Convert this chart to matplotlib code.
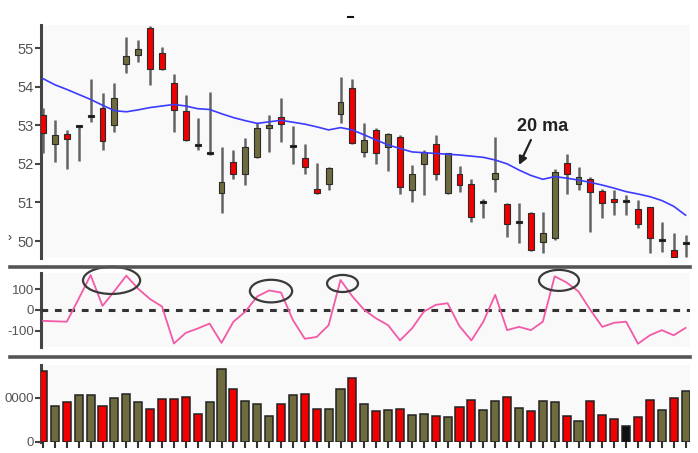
import matplotlib
matplotlib.use("Agg")
import matplotlib.pyplot as plt
from matplotlib.patches import Ellipse
from matplotlib.lines import Line2D

plt.rcParams['font.family'] = ['Liberation Sans Narrow', 'Liberation Sans', 'DejaVu Sans']

# price data (one candle per session)
opens = [53.26, 52.51, 52.77, 52.97, 53.25, 53.46, 53.00, 54.58, 54.81, 55.51,
         54.88, 54.10, 53.37, 52.50, 52.27, 51.25, 52.06, 51.74, 52.18, 52.93,
         53.22, 52.46, 52.14, 51.36, 51.48, 53.29, 53.96, 52.31, 52.89, 52.44,
         52.70, 51.32, 51.99, 52.51, 51.25, 51.75, 51.49, 51.02, 51.60, 50.96,
         50.50, 50.72, 49.98, 50.07, 52.01, 51.49, 51.60, 51.30, 51.08, 51.04,
         50.83, 50.87, 50.03, 49.78, 49.95]
highs = [53.44, 53.13, 52.88, 53.00, 54.19, 53.84, 54.10, 55.28, 55.21, 55.57,
         55.02, 54.34, 53.78, 53.18, 53.87, 52.44, 52.37, 52.66, 53.05, 53.26,
         53.72, 52.98, 52.51, 52.01, 51.93, 54.26, 54.19, 53.07, 52.94, 52.79,
         52.75, 51.97, 52.36, 52.75, 52.29, 51.94, 51.62, 51.10, 52.69, 50.99,
         50.99, 50.76, 50.76, 51.88, 52.25, 51.93, 51.67, 51.36, 51.32, 51.19,
         51.06, 50.89, 50.50, 50.22, 50.15]
lows = [52.27, 52.06, 51.88, 52.08, 53.09, 52.37, 52.83, 54.36, 54.65, 54.04,
        54.43, 52.83, 52.60, 52.36, 52.23, 50.73, 51.62, 51.45, 52.15, 52.31,
        52.57, 51.99, 51.74, 51.23, 51.32, 53.05, 52.51, 52.18, 51.99, 51.82,
        51.23, 51.02, 51.19, 51.58, 51.23, 51.28, 50.50, 50.59, 51.28, 50.11,
        49.96, 49.75, 49.68, 50.03, 51.23, 51.32, 50.24, 50.59, 50.67, 50.67,
        50.33, 49.70, 49.72, 49.55, 49.58]
closes = [52.79, 52.75, 52.65, 52.97, 53.25, 52.60, 53.72, 54.79, 54.97, 54.45,
          54.47, 53.39, 52.63, 52.50, 52.27, 51.54, 51.74, 52.43, 52.92, 53.00,
          53.03, 52.46, 51.91, 51.25, 51.90, 53.61, 52.55, 52.62, 52.27, 52.77,
          51.41, 51.75, 52.31, 51.74, 52.27, 51.45, 50.63, 51.02, 51.77, 50.44,
          50.50, 49.78, 50.20, 51.80, 51.75, 51.67, 51.28, 50.99, 51.02, 51.04,
          50.44, 50.07, 50.03, 49.58, 49.95]
ma20 = [54.21, 54.05, 53.93, 53.80, 53.67, 53.52, 53.38, 53.35, 53.40, 53.46,
        53.50, 53.54, 53.50, 53.43, 53.41, 53.30, 53.20, 53.12, 53.05, 53.09,
        53.13, 53.08, 53.03, 52.96, 52.88, 52.94, 52.88, 52.75, 52.62, 52.49,
        52.40, 52.31, 52.29, 52.27, 52.25, 52.23, 52.20, 52.17, 52.10, 52.00,
        51.84, 51.70, 51.60, 51.67, 51.63, 51.58, 51.52, 51.45, 51.37, 51.28,
        51.22, 51.15, 51.05, 50.90, 50.67]

# oscillator
cci = [-53, -55, -57, 55, 170, 20, 92, 167, 103, 53,
       17, -163, -111, -90, -66, -160, -57, -8, 66, 95,
       85, -49, -140, -131, -74, 146, 66, 0, -41, -74,
       -148, -90, -8, 25, 33, -79, -148, -57, 74, -98,
       -82, -98, -57, 164, 134, 90, 0, -82, -62, -57,
       -164, -123, -98, -123, -87]

# volume
volume = [16200, 8200, 9000, 10750, 10750, 8200, 9900, 11000, 9000, 7500,
          9850, 9850, 10150, 6400, 9000, 16700, 12100, 9300, 8700, 6000,
          8700, 10750, 11000, 7500, 7400, 12150, 14500, 8700, 7000, 7300,
          7500, 6200, 6300, 6000, 5700, 7900, 9600, 7300, 9400, 10150,
          7800, 7000, 9400, 9000, 6000, 4700, 9300, 6100, 5300, 3600,
          5700, 9600, 7300, 9900, 11500]
vol_colors = ['r', 'g', 'r', 'g', 'g', 'r', 'g', 'g', 'g', 'r',
              'r', 'r', 'r', 'r', 'g', 'g', 'r', 'g', 'g', 'g',
              'r', 'g', 'r', 'r', 'g', 'g', 'r', 'g', 'r', 'g',
              'r', 'g', 'g', 'r', 'g', 'r', 'r', 'g', 'g', 'r',
              'g', 'r', 'g', 'g', 'r', 'g', 'r', 'r', 'r', 'k',
              'r', 'r', 'g', 'r', 'g']

# circled oscillator peaks: (center index, center value, width, height)
circles = [(6.76, 144, 4.8, 132), (20.16, 92, 3.55, 110),
           (26.17, 129, 2.6, 83), (44.36, 144, 3.36, 102)]

RED = '#f00000'
OLIVE = '#6e6c3e'
cmap = {'r': RED, 'g': OLIVE, 'k': '#111111'}
W, H = 698, 453
n = len(closes)
idx = list(range(1, n + 1))


def rect(left, top, right, bottom):
    return [left / W, 1 - bottom / H, (right - left) / W, (bottom - top) / H]


fig = plt.figure(figsize=(W / 100, H / 100), dpi=100)
fig.patch.set_facecolor('white')

ax1 = fig.add_axes(rect(41, 25, 690, 258))
ax2 = fig.add_axes(rect(41, 273, 690, 347))
ax3 = fig.add_axes(rect(41, 365, 690, 442))

for ax in (ax1, ax2, ax3):
    ax.set_facecolor('#f9f9f9')
    for s in ('top', 'right', 'bottom'):
        ax.spines[s].set_visible(False)
    ax.spines['left'].set_color('#444444')
    ax.spines['left'].set_linewidth(2.2)
    ax.spines['left'].set_zorder(1)
    ax.set_xlim(0.83, 55.37)
    ax.tick_params(axis='y', colors='#444444', labelcolor='#555555',
                   length=4, width=1.5, pad=1)

# candles
ax1.vlines(idx, lows, highs, color='#646464', lw=1.8, zorder=2)
for i in range(n):
    o, c = opens[i], closes[i]
    if c > o:
        col = OLIVE
    elif c < o:
        col = RED
    else:
        col = '#111111'
    h = max(abs(c - o), 0.05)
    ax1.bar(idx[i], h, bottom=min(o, c) - (h - abs(c - o)) / 2, width=0.5,
            color=col, edgecolor='#2a2a2a', lw=0.8, zorder=3)
ax1.plot(idx, ma20, color='#3b3bff', lw=1.2, zorder=4)
ax1.set_ylim(49.56, 55.60)
ax1.set_yticks([50, 51, 52, 53, 54, 55])
ax1.set_yticklabels(['50', '51', '52', '53', '54', '55'], fontsize=10.5)
ax1.set_xticks([])

ax1.text(40.85, 52.97, '20 ma', fontsize=13, fontweight='bold',
         family=['Liberation Sans', 'DejaVu Sans'], color='#222222',
         ha='left', va='center')
ax1.annotate('', xy=(41.0, 51.97), xytext=(42.0, 52.62),
             arrowprops=dict(arrowstyle='-|>', color='#222222', lw=1.6,
                             mutation_scale=12, shrinkA=0, shrinkB=0))

# oscillator
ax2.axhline(0, color='#333333', lw=2.2, ls=(0, (2.2, 2.2)), zorder=2)
ax2.plot(idx, cci, color='#f25aa8', lw=1.3, zorder=3)
for cx, cy, ew, eh in circles:
    ax2.add_patch(Ellipse((cx, cy), ew, eh, fill=False, edgecolor='#3a3a3a',
                          lw=1.6, clip_on=False, zorder=4))
ax2.set_ylim(-180, 180)
ax2.set_yticks([-100, 0, 100])
ax2.set_yticklabels(['-100', '0', '100'], fontsize=9.5)
ax2.set_xticks([])

# volume
ax3.bar(idx, volume, width=0.68, color=[cmap[c] for c in vol_colors],
        edgecolor='#222222', lw=1.1, zorder=2)
ax3.set_ylim(0, 17500)
ax3.set_yticks([0, 10000])
ax3.set_yticklabels(['0', '0000'], fontsize=9.5)
ax3.set_xticks(idx)
ax3.set_xticklabels([])
ax3.set_xticks([18, 40], minor=True)
ax3.tick_params(axis='x', which='major', length=4, width=1.5, color='#333333')
ax3.tick_params(axis='x', which='minor', length=8, width=1.5, color='#333333')

# panel separators and stray marks
for yy in (266.5, 357):
    fig.add_artist(Line2D([10 / W, 690 / W], [1 - yy / H, 1 - yy / H],
                          color='#555555', lw=2.6))
fig.add_artist(Line2D([348 / W, 353 / W], [1 - 17 / H, 1 - 17 / H],
                      color='#111111', lw=1.5))
fig.text(8 / W, 1 - 238 / H, '›', fontsize=9, color='#333333', va='center')

fig.savefig('out.png', dpi=100, facecolor='white')
